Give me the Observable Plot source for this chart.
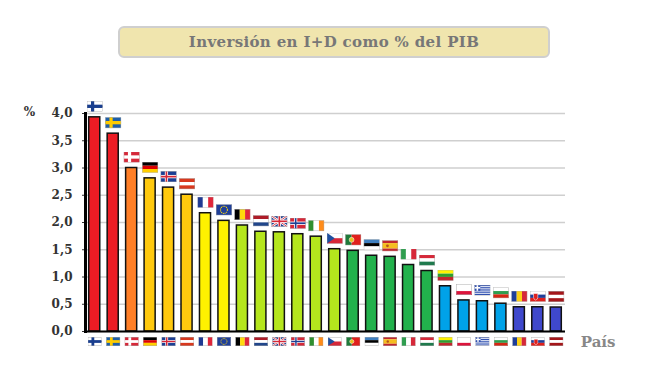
<!DOCTYPE html>
<html lang="es">
<head>
<meta charset="utf-8">
<script src="https://cdn.jsdelivr.net/npm/d3@7"></script>
<script src="https://cdn.jsdelivr.net/npm/@observablehq/plot@0.6"></script>
<style>
  html, body { margin: 0; padding: 0; background: #fff; width: 665px; height: 385px; overflow: hidden; }
  #head { height: 90px; position: relative; }
  #title {
    position: absolute; left: 118px; top: 26px; width: 428px; height: 28px; line-height: 28px;
    background: #f0e5ae; border: 2px solid #cfcfcf; border-radius: 6px; text-align: center;
    font: bold 15px/28px "DejaVu Serif", serif; color: #777; letter-spacing: 0.35px;
  }
  svg { display: block; }
</style>
</head>
<body>
<div id="head"><div id="title">Inversión en I+D como % del PIB</div></div>
<div id="chart"></div>
<script>
const countries = ["FI","SE","DK","DE","IS","AT","FR","EU","BE","NL","UK","NO","IE","CZ","PT","EE","ES","IT","HU","LT","PL","GR","BG","RO","SK","LV"];
const values = [3.93,3.63,3.0,2.81,2.64,2.51,2.17,2.03,1.945,1.83,1.82,1.785,1.74,1.51,1.48,1.39,1.37,1.22,1.11,0.83,0.57,0.555,0.51,0.445,0.445,0.44];
const barColors = ["#ed1c24","#ed1c24","#ff7f27","#ffc90e","#ffc90e","#ffc90e","#fff200","#fff200","#b5e61d","#b5e61d","#b5e61d","#b5e61d","#b5e61d","#b5e61d","#22b14c","#22b14c","#22b14c","#22b14c","#22b14c","#00a2e8","#00a2e8","#00a2e8","#00a2e8","#3f48cc","#3f48cc","#3f48cc"];
const yTicks = [0,0.5,1,1.5,2,2.5,3,3.5,4];
const flagDesigns = [
  "cross #ffffff #1a3f8f #1a3f8f",
  "cross #1f5fa8 #ffcc00 #ffcc00",
  "cross #d62839 #ffffff #ffffff",
  "h #000000 #dd0000 #ffce00",
  "cross #1c3f94 #ffffff #d62839",
  "h #d8381e #ffffff #d8381e",
  "v #1f3a93 #ffffff #e0263a",
  "eu #1f3f99",
  "v #000000 #ffd90c #e0263a",
  "h #ae1c28 #ffffff #21468b",
  "uk",
  "cross #d62839 #ffffff #1c3f94",
  "v #2f8f2f #ffffff #ff8c1a",
  "cz",
  "pt",
  "h #3f7fbf #000000 #ffffff",
  "es",
  "v #2f9e4f #ffffff #d62839",
  "h #d62839 #ffffff #1f7a4d",
  "h #fff200 #2f9e2f #c1272d",
  "h #ffffff #ffffff #dc143c",
  "gr",
  "h #ffffff #2f9e4f #d62612",
  "v #1f3f99 #fcd116 #d62839",
  "sk",
  "h #a4161a #ffffff #a4161a"
];

function flagSvg(design) {
  const [kind, a, b, c] = design.split(" ");
  let s = "";
  const r = (x, y, w, h, f) => `<rect x="${x}" y="${y}" width="${w}" height="${h}" fill="${f}"/>`;
  if (kind === "h") s = r(0,0,30,7,a) + r(0,7,30,6,b) + r(0,13,30,7,c);
  else if (kind === "v") s = r(0,0,10,20,a) + r(10,0,10,20,b) + r(20,0,10,20,c);
  else if (kind === "cross") s = r(0,0,30,20,a) + r(8,0,6,20,b) + r(0,7,30,6,b) + r(9.5,0,3,20,c) + r(0,8.5,30,3,c);
  else if (kind === "eu") s = r(0,0,30,20,a) + `<circle cx="15" cy="10" r="6.5" fill="none" stroke="#ffd90c" stroke-width="2" stroke-dasharray="2 1.4"/>`;
  else if (kind === "uk") s = r(0,0,30,20,"#1f3f8f")
    + `<path d="M0 0L30 20M30 0L0 20" stroke="#fff" stroke-width="4.5"/><path d="M0 0L30 20M30 0L0 20" stroke="#d62839" stroke-width="1.6"/>`
    + r(12,0,6,20,"#fff") + r(0,7,30,6,"#fff") + r(13.5,0,3,20,"#d62839") + r(0,8.5,30,3,"#d62839");
  else if (kind === "cz") s = r(0,0,30,10,"#fff") + r(0,10,30,10,"#d62839") + `<path d="M0 0L15 10L0 20Z" fill="#1f4f9f"/>`;
  else if (kind === "pt") s = r(0,0,12,20,"#1f7a3a") + r(12,0,18,20,"#e0201c") + `<circle cx="12" cy="10" r="4.5" fill="#e8c020" stroke="#fff" stroke-width="1"/>`;
  else if (kind === "es") s = r(0,0,30,5,"#c1272d") + r(0,5,30,10,"#f5bd1f") + r(0,15,30,5,"#c1272d") + `<circle cx="10" cy="10" r="2.6" fill="#b5541c"/>`;
  else if (kind === "gr") { s = r(0,0,30,20,"#fff"); for (let i = 0; i < 5; i++) s += r(0,i*4+0.4,30,2.2,"#2f4fb0"); s += r(0,0,11,11,"#2f4fb0") + r(4,0,3,11,"#fff") + r(0,4,11,3,"#fff"); }
  else if (kind === "sk") s = r(0,0,30,7,"#fff") + r(0,7,30,6,"#1f3f99") + r(0,13,30,7,"#e0201c") + `<path d="M7 5h8v7q0 4-4 5q-4-1-4-5z" fill="#e0201c" stroke="#fff"/>`;
  s += `<rect x="0.5" y="0.5" width="29" height="19" fill="none" stroke="#aaa" stroke-width="1"/>`;
  const svg = `<svg xmlns="http://www.w3.org/2000/svg" viewBox="0 0 30 20" preserveAspectRatio="none">${s}</svg>`;
  return "data:image/svg+xml," + encodeURIComponent(svg);
}

const rows = countries.map((c, i) => ({country: c, value: values[i], color: barColors[i], flag: flagSvg(flagDesigns[i])}));
const comma = d => d.toFixed(1).replace(".", ",");
const serif = '"DejaVu Serif", serif';

const plot = Plot.plot({
  width: 665,
  height: 295,
  marginLeft: 85,
  marginRight: 100,
  marginTop: 23,
  marginBottom: 54,
  style: {background: "#fff", overflow: "visible"},
  x: {domain: countries, padding: 0, round: false, axis: null},
  y: {domain: [0, 4], round: false},
  color: {type: "identity"},
  marks: [
    Plot.gridY(yTicks, {stroke: "#cfcfcf", strokeOpacity: 1, strokeWidth: 1.3}),
    Plot.axisY(yTicks, {
      tickFormat: comma, tickSize: 3, tickPadding: 10, label: null,
      fontFamily: serif, fontWeight: "bold", fontSize: 12, fill: "#333", stroke: "#333"
    }),
    Plot.barY(rows, {x: "country", y: "value", fill: "color", stroke: "#111", strokeWidth: 1.5, insetLeft: 3.7, insetRight: 3.7}),
    Plot.frame({anchor: "left", stroke: "#000", strokeWidth: 3}),
    Plot.ruleY([0], {stroke: "#000", strokeWidth: 2}),
    Plot.image(rows, {x: "country", y: "value", src: "flag", width: 16, height: 11, dy: -11, preserveAspectRatio: "none"}),
    Plot.image(rows, {x: "country", y: () => 0, src: "flag", width: 14, height: 9, dy: 10, preserveAspectRatio: "none"}),
    Plot.text(["%"], {frameAnchor: "top-left", dx: -56, dy: -6, text: d => d, textAnchor: "middle", fontFamily: serif, fontWeight: "bold", fontSize: 12, fill: "#333", lineAnchor: "top"}),
    Plot.text(["País"], {frameAnchor: "bottom-right", dx: 50, dy: 11, text: d => d, fontFamily: serif, fontWeight: "bold", fontSize: 15, fill: "#888", lineAnchor: "middle", letterSpacing: 1.2})
  ]
});
document.getElementById("chart").appendChild(plot);
</script>
</body>
</html>
